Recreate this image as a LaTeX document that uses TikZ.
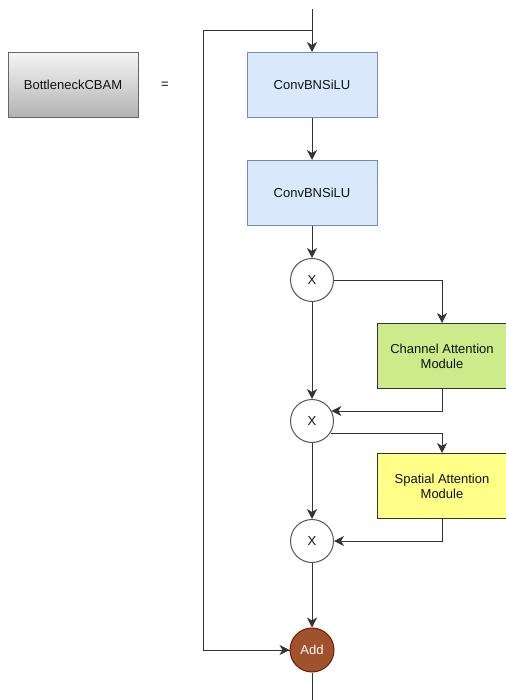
\documentclass[tikz,border=0pt]{standalone}
\usepackage{fontspec}
\setmainfont{Liberation Sans}
\usetikzlibrary{arrows.meta,calc}
\definecolor{bluefill}{HTML}{DAE8FC}
\definecolor{blueline}{HTML}{6C8EBF}
\definecolor{greenfill}{HTML}{CDEB8B}
\definecolor{yellowfill}{HTML}{FFFF88}
\definecolor{darkline}{HTML}{333333}
\definecolor{circline}{HTML}{555555}
\definecolor{addfill}{HTML}{A0522D}
\definecolor{addline}{HTML}{6D1F00}
\definecolor{grayline}{HTML}{666666}
\definecolor{txt}{HTML}{111111}
\tikzset{
  x=1pt, y=-1pt,
  every node/.style={font=\fontsize{13}{15}\selectfont, text=txt, align=center},
  box/.style={rectangle, minimum width=130pt, minimum height=65pt, inner sep=0pt, line width=1pt},
  convbox/.style={box, draw=blueline, fill=bluefill},
  mulnode/.style={circle, draw=circline, fill=white, minimum size=43pt, inner sep=0pt, line width=1pt},
  flow/.style={draw=darkline, line width=1pt, -{Stealth[length=10pt,width=10pt,inset=3pt]}},
  plain/.style={draw=darkline, line width=1pt},
}
\begin{document}
\begin{tikzpicture}
\useasboundingbox (0,0) rectangle (505,700);
\fill[white] (0,0) rectangle (505,700);

% title block
\node[box, draw=grayline, top color=white!96!black, bottom color=white!70!black] (title) at (73,85) {BottleneckCBAM};
\node (eq) at (165,85) {=};

% main column
\coordinate (in) at (312,9);
\coordinate (split) at (312,31);
\node[convbox] (c1) at (312,85) {ConvBNSiLU};
\node[convbox] (c2) at (312,193) {ConvBNSiLU};
\node[mulnode] (m1) at (312,280) {X};
\node[box, draw=darkline, fill=greenfill] (cam) at (442,356) {Channel Attention\\Module};
\node[mulnode] (m2) at (312,421) {X};
\node[box, draw=darkline, fill=yellowfill] (sam) at (442,486) {Spatial Attention\\Module};
\node[mulnode] (m3) at (312,541) {X};
\node[circle, draw=addline, fill=addfill, minimum size=44pt, inner sep=0pt, line width=1pt, text=white] (add) at (312,650) {Add};
\coordinate (out) at (312,700);
\coordinate (skip) at (203,31);

% connectors
\draw[flow] (in) -- (c1);
\draw[plain] (split) -- (skip) |- (add);
\draw[flow] (skip |- add) -- (add);
\draw[flow] (c1) -- (c2);
\draw[flow] (c2) -- (m1);
\draw[flow] (m1) -- (m2);
\draw[flow] (m2) -- (m3);
\draw[flow] (m3) -- (add);
\draw[plain] (add) -- (out);

\draw[flow] (m1.east) -| (cam.north);
\draw[flow] (cam.south) |- ($(m2.center)+(19.4,-10)$);
\draw[flow] ($(m2.center)+(19.4,12)$) -| (sam.north);
\draw[flow] (sam.south) |- (m3.east);
\end{tikzpicture}
\end{document}
